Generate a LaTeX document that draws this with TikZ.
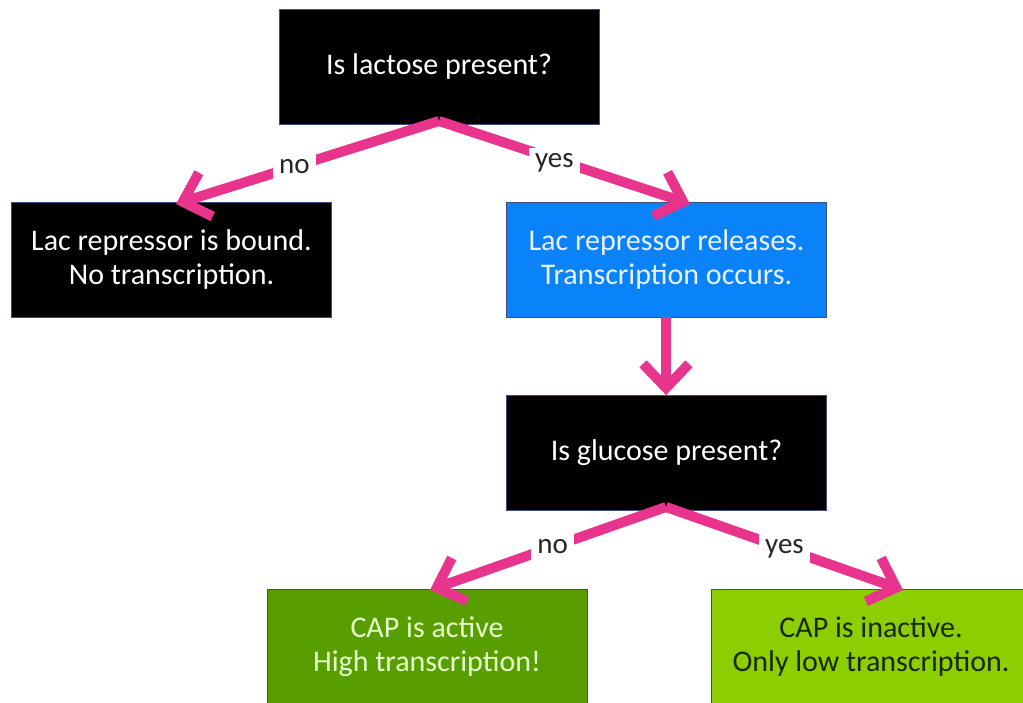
\documentclass[tikz,border=0pt]{standalone}
\usepackage{fontspec}
\setmainfont{Carlito}
\usetikzlibrary{arrows.meta}
\definecolor{pinkarrow}{RGB}{232,52,140}
\definecolor{boxblue}{RGB}{10,130,250}
\definecolor{darkgreen}{RGB}{88,158,0}
\definecolor{lightgreen}{RGB}{140,206,0}
\definecolor{boxedge}{RGB}{60,80,120}
\definecolor{blueText}{RGB}{235,242,255}
\definecolor{dgText}{RGB}{230,255,205}
\definecolor{lgText}{RGB}{25,40,0}
\tikzset{
  box/.style={draw=boxedge, line width=0.8pt, minimum width=320pt, minimum height=115pt,
    inner sep=0pt, align=center, font=\fontsize{30}{34}\selectfont},
  blackbox/.style={box, fill=black, text=white},
  flow/.style={draw=pinkarrow, line width=10pt,
    -{Straight Barb[length=24pt,width=46pt,line width=10pt]}},
  lbl/.style={fill=white, inner sep=6pt, font=\fontsize{29}{32}\selectfont, text=black!85}
}
\begin{document}
\begin{tikzpicture}[x=1pt,y=-1pt]
\useasboundingbox (0,0) rectangle (1023,703);
\clip (0,0) rectangle (1023,703);
\node[blackbox] (lac) at (439,66.5) {Is lactose present?};
\node[blackbox] (bound) at (171.5,259.5) {Lac repressor is bound.\\No transcription.};
\node[box, fill=boxblue, text=blueText] (rel) at (666.5,259.5) {Lac repressor releases.\\Transcription occurs.};
\node[blackbox] (glu) at (666.5,453) {Is glucose present?};
\node[box, fill=darkgreen, text=dgText] (act) at (427,646.5) {CAP is active\\High transcription!};
\node[box, fill=lightgreen, text=lgText] (inact) at (871,646.5) {CAP is inactive.\\Only low transcription.};
\coordinate (lacA) at (439,121);
\coordinate (gluA) at (666,507);
\coordinate (t1) at (176,204);
\coordinate (t2) at (690,204);
\coordinate (t3) at (430,590);
\coordinate (t4) at (903,590);
\draw[flow] (lacA) -- node[lbl, pos=0.55] {no} (t1);
\draw[flow] (lacA) -- node[lbl, pos=0.46, yshift=-4pt] {yes} (t2);
\draw[flow] (rel.south -| 666,0) -- (glu.north -| 666,0);
\draw[flow] (gluA) -- node[lbl, pos=0.48] {no} (t3);
\draw[flow] (gluA) -- node[lbl, pos=0.5] {yes} (t4);
\end{tikzpicture}
\end{document}
